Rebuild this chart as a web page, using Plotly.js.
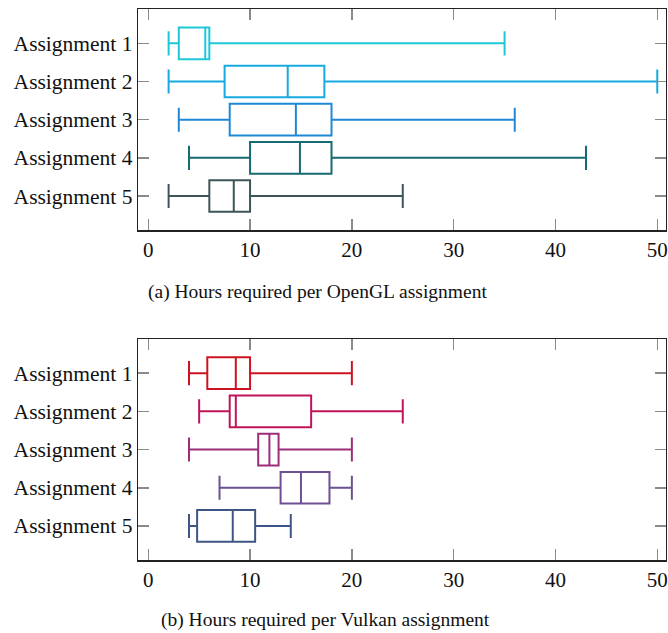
<!DOCTYPE html>
<html>
<head>
<meta charset="utf-8">
<script src="https://cdn.plot.ly/plotly-3.0.1.min.js"></script>
<style>html,body{margin:0;padding:0;background:#fff;}#chart{width:668px;height:633px;}</style>
</head>
<body>
<div id="chart"></div>
<script>
// Data
const categories = ["Assignment 1", "Assignment 2", "Assignment 3", "Assignment 4", "Assignment 5"];
const xTicks = [0, 10, 20, 30, 40, 50];

// OpenGL (hours)
const openglLower  = [2, 2, 3, 4, 2];
const openglQ1     = [3, 7.5, 8, 10, 6];
const openglMedian = [5.6, 13.7, 14.5, 14.9, 8.4];
const openglQ3     = [6, 17.3, 18, 18, 10];
const openglUpper  = [35, 50, 36, 43, 25];

// Vulkan (hours)
const vulkanLower  = [4, 5, 4, 7, 4];
const vulkanQ1     = [5.8, 8, 10.8, 13, 4.8];
const vulkanMedian = [8.6, 8.6, 11.9, 15, 8.3];
const vulkanQ3     = [10, 16, 12.8, 17.8, 10.5];
const vulkanUpper  = [20, 25, 20, 20, 14];

const openglColors = ["#1cc8d6", "#17a9e0", "#1f88d6", "#186a72", "#3d5558"];
const vulkanColors = ["#cc1420", "#c0145a", "#9c2d7a", "#6e4f94", "#3f5585"];

const captionA = "(a) Hours required per OpenGL assignment";
const captionB = "(b) Hours required per Vulkan assignment";

const FONT = "Liberation Serif";
const traces = [];
function addSet(lower, q1, med, q3, upper, colors, xa, ya) {
  for (let i = 0; i < categories.length; i++) {
    traces.push({
      type: "box", orientation: "h",
      y: [i + 1], q1: [q1[i]], median: [med[i]], q3: [q3[i]],
      lowerfence: [lower[i]], upperfence: [upper[i]],
      width: 0.83, whiskerwidth: 0.76,
      line: {color: colors[i], width: 2},
      fillcolor: "rgba(0,0,0,0)",
      xaxis: xa, yaxis: ya, showlegend: false, hoverinfo: "skip"
    });
  }
}
addSet(openglLower, openglQ1, openglMedian, openglQ3, openglUpper, openglColors, "x", "y");
addSet(vulkanLower, vulkanQ1, vulkanMedian, vulkanQ3, vulkanUpper, vulkanColors, "x2", "y2");

function xaxis(anchor) {
  return {
    anchor: anchor, domain: [0.2070, 0.9966], range: [-0.98, 50.83],
    tickvals: xTicks, ticktext: xTicks.map(String),
    ticks: "inside", ticklen: 11, tickwidth: 1.5, tickcolor: "#8a8a8a",
    showline: true, linecolor: "#222", linewidth: 1.5, mirror: "ticks",
    showgrid: false, zeroline: false,
    tickfont: {family: FONT, size: 21, color: "#111"}
  };
}
function yaxis(anchor, domain) {
  return {
    anchor: anchor, domain: domain, range: [5.898, 0.113],
    tickvals: [1, 2, 3, 4, 5], ticktext: categories,
    ticks: "inside", ticklen: 11, tickwidth: 1.5, tickcolor: "#8a8a8a",
    showline: true, linecolor: "#222", linewidth: 1.5, mirror: "ticks",
    showgrid: false, zeroline: false,
    tickfont: {family: FONT, size: 21.5, color: "#111"}
  };
}

const layout = {
  width: 668, height: 633,
  margin: {l: 0, r: 0, t: 0, b: 0},
  paper_bgcolor: "#fff", plot_bgcolor: "#fff",
  xaxis: xaxis("y"), yaxis: yaxis("x", [0.6362, 0.985]),
  xaxis2: xaxis("y2"), yaxis2: yaxis("x2", [0.1149, 0.464]),
  annotations: [
    {text: captionA, xref: "paper", yref: "paper", x: 317.5 / 668, y: 1 - 292 / 633,
     xanchor: "center", yanchor: "middle", showarrow: false,
     font: {family: FONT, size: 19.5, color: "#111"}},
    {text: captionB, xref: "paper", yref: "paper", x: 325 / 668, y: 1 - 620 / 633,
     xanchor: "center", yanchor: "middle", showarrow: false,
     font: {family: FONT, size: 19.5, color: "#111"}}
  ]
};

Plotly.newPlot("chart", traces, layout, {staticPlot: true, displayModeBar: false});
</script>
</body>
</html>
